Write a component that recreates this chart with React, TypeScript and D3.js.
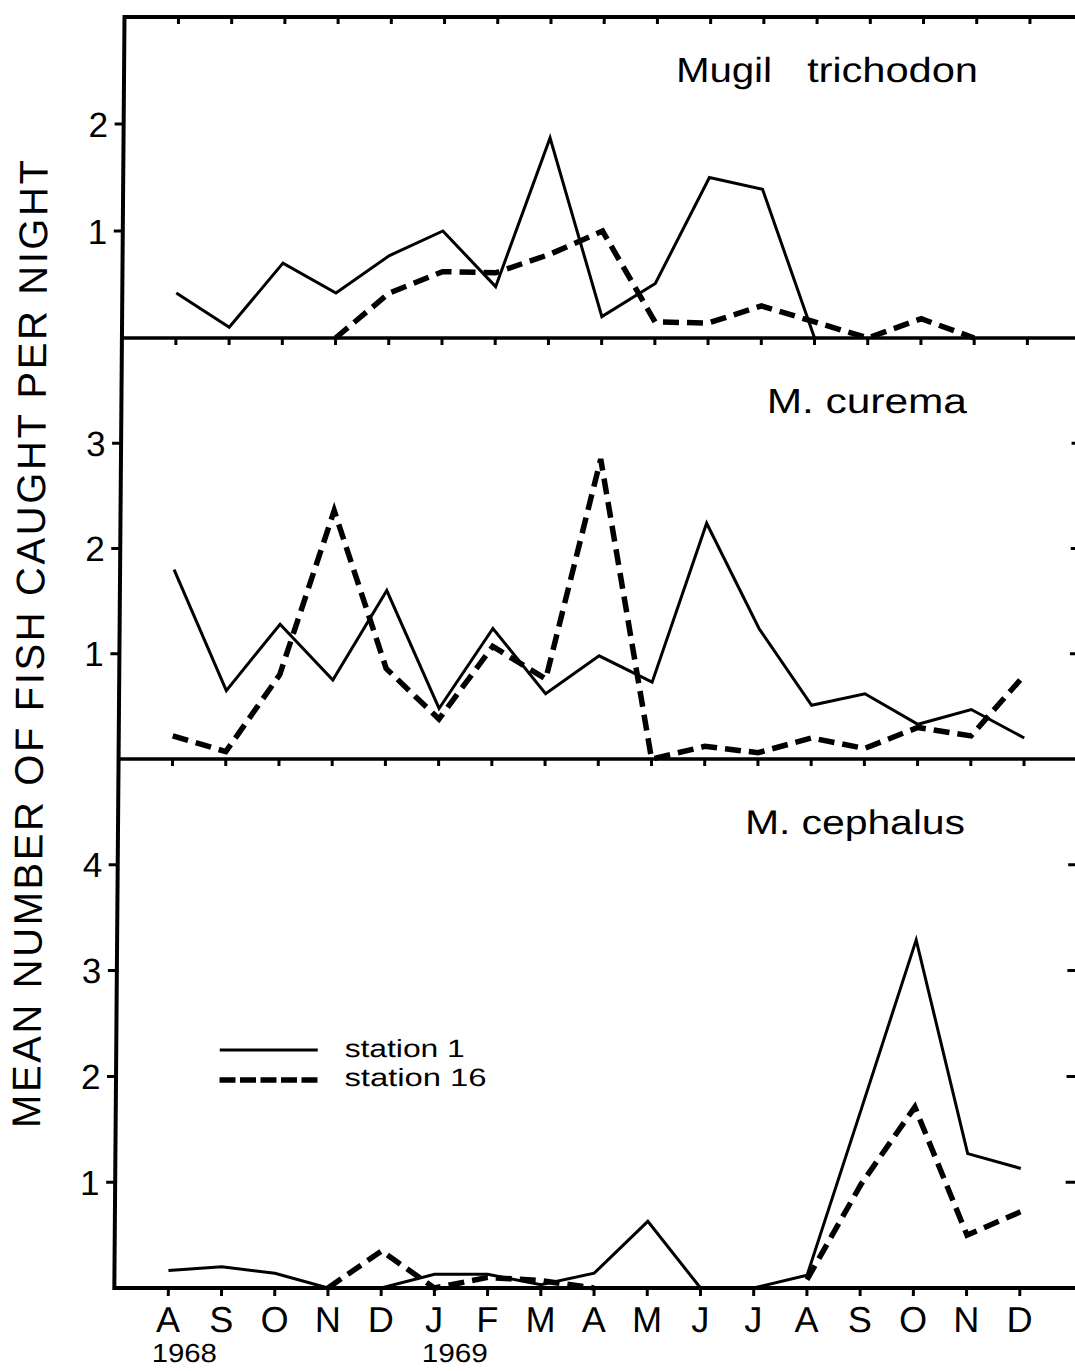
import React from 'react';
import * as d3 from 'd3';

// ---- data ----
const months = ['A', 'S', 'O', 'N', 'D', 'J', 'F', 'M', 'A', 'M', 'J', 'J', 'A', 'S', 'O', 'N', 'D'];
const years = [
  { label: '1968', index: 0, dx: -16, len: 65 },
  { label: '1969', index: 5, dx: -12, len: 66 },
];
const species = ['Mugil trichodon', 'M. curema', 'M. cephalus'];
const yMaxes = [3, 4, 5];
const yTicks = [[1, 2], [1, 2, 3], [1, 2, 3, 4]];

const trichodonSt1 = [0.42, 0.10, 0.70, 0.42, 0.77, 1.0, 0.48, 1.87, 0.2, 0.51, 1.5, 1.39, 0, null, null, null, null];
const trichodonSt16 = [null, null, null, 0, 0.42, 0.62, 0.61, 0.78, 1.0, 0.15, 0.14, 0.3, 0.15, 0, 0.18, 0, null];
const curemaSt1 = [1.80, 0.65, 1.28, 0.75, 1.60, 0.48, 1.24, 0.62, 0.98, 0.73, 2.24, 1.24, 0.51, 0.62, 0.33, 0.47, 0.20];
const curemaSt16 = [0.22, 0.07, 0.80, 2.36, 0.86, 0.38, 1.07, 0.76, 2.85, 0, 0.12, 0.06, 0.2, 0.1, 0.3, 0.22, 0.8];
const cephalusSt1 = [0.165, 0.2, 0.14, 0, 0, 0.13, 0.13, 0.03, 0.14, 0.63, 0, 0, 0.12, 1.7, 3.29, 1.27, 1.13];
const cephalusSt16 = [null, null, null, 0, 0.35, 0, 0.1, 0.07, 0, null, null, null, 0.08, 0.98, 1.71, 0.5, 0.72];

const station1 = [trichodonSt1, curemaSt1, cephalusSt1];
const station16 = [trichodonSt16, curemaSt16, cephalusSt16];
const legendLabels = ['station 1', 'station 16'];

// ---- layout ----
const W = 1075;
const H = 1371;
const LEFT = 124.5;
const RIGHT = 1092;
const panelTops = [17, 338, 759];
const panelBottoms = [338, 759, 1288];
const SKEW = -Math.atan(0.008) * 180 / Math.PI;

const numFont = '"Liberation Sans", Arial, sans-serif';
const titleFont = '"Liberation Sans", Arial, sans-serif';

export default function App() {
  const x = d3.scaleLinear().domain([0, 16]).range([178.5, 1030]);

  const panels = species.map((name, i) => {
    const y = d3.scaleLinear().domain([0, yMaxes[i]]).range([panelBottoms[i], panelTops[i]]);
    const line = d3
      .line<number | null>()
      .defined((d) => d != null)
      .x((_, j) => x(j))
      .y((d) => y(d as number));
    return { name, y, line, i };
  });

  return (
    <div style={{ position: 'absolute', left: 0, top: 0, background: '#fff' }}>
      <svg width={W} height={H} viewBox={`0 0 ${W} ${H}`} style={{ display: 'block', background: '#fff' }}>
        <rect x={0} y={0} width={W} height={H} fill="#fff" />
        <g transform={`translate(0,17) skewX(${SKEW}) translate(0,-17)`}>
          {/* y axis title */}
          <text
            transform={`translate(48.9,644) rotate(-90)`}
            textAnchor="middle"
            fontFamily={numFont}
            fontSize={40}
            textLength={968}
            lengthAdjust="spacing"
            fill="#000"
          >
            MEAN NUMBER OF FISH CAUGHT PER NIGHT
          </text>

          {/* frame */}
          <line x1={LEFT} x2={LEFT} y1={panelTops[0] - 2} y2={panelBottoms[2] + 2} stroke="#000" strokeWidth={4} />
          <line x1={RIGHT} x2={RIGHT} y1={panelTops[0]} y2={panelBottoms[2]} stroke="#000" strokeWidth={4} />
          <line x1={LEFT} x2={RIGHT} y1={panelTops[0]} y2={panelTops[0]} stroke="#000" strokeWidth={4} />
          {panelBottoms.map((b, k) => (
            <line key={k} x1={LEFT} x2={RIGHT} y1={b} y2={b} stroke="#000" strokeWidth={k === 2 ? 4 : 3.5} />
          ))}

          {panels.map((p) => (
            <g key={p.name}>
              {/* top ticks (inward) */}
              {months.map((m, j) => (
                <line key={j} x1={x(j)} x2={x(j)} y1={panelTops[p.i]} y2={panelTops[p.i] + 7} stroke="#000" strokeWidth={3} />
              ))}
              {/* left ticks + labels */}
              {yTicks[p.i].map((t) => (
                <g key={t}>
                  <line x1={LEFT - 9} x2={LEFT} y1={p.y(t)} y2={p.y(t)} stroke="#000" strokeWidth={3} />
                  <text x={109} y={p.y(t)} dy="0.36em" textAnchor="end" fontFamily={numFont} fontSize={35} fill="#000">
                    {t}
                  </text>
                  {p.i > 0 && (
                    <line x1={RIGHT - 17} x2={RIGHT} y1={p.y(t)} y2={p.y(t)} stroke="#000" strokeWidth={3} />
                  )}
                </g>
              ))}
              {/* series */}
              <path d={p.line(station1[p.i]) || ''} fill="none" stroke="#000" strokeWidth={3} strokeLinejoin="miter" />
              <path
                d={p.line(station16[p.i]) || ''}
                fill="none"
                stroke="#000"
                strokeWidth={5.5}
                strokeDasharray="16 8"
              />
            </g>
          ))}

          {/* species titles */}
          <text x={676.5} y={82} fontFamily={titleFont} fontSize={35} textLength={96} lengthAdjust="spacingAndGlyphs" fill="#000">
            {species[0].split(' ')[0]}
          </text>
          <text x={807.5} y={82} fontFamily={titleFont} fontSize={35} textLength={171} lengthAdjust="spacingAndGlyphs" fill="#000">
            {species[0].split(' ')[1]}
          </text>
          <text x={770} y={413} fontFamily={titleFont} fontSize={35} textLength={200} lengthAdjust="spacingAndGlyphs" fill="#000">
            {species[1]}
          </text>
          <text x={751.5} y={834} fontFamily={titleFont} fontSize={34} textLength={220} lengthAdjust="spacingAndGlyphs" fill="#000">
            {species[2]}
          </text>

          {/* bottom axis ticks and labels */}
          {months.map((m, j) => (
            <g key={j}>
              <line x1={x(j)} x2={x(j)} y1={panelBottoms[2]} y2={panelBottoms[2] + 8} stroke="#000" strokeWidth={3} />
              <text x={x(j)} y={1332} textAnchor="middle" fontFamily={numFont} fontSize={36} fill="#000">
                {m}
              </text>
            </g>
          ))}
          {years.map((yr) => (
            <text
              key={yr.label}
              x={x(yr.index) + yr.dx}
              y={1362}
              fontFamily={numFont}
              fontSize={26}
              textLength={yr.len}
              lengthAdjust="spacingAndGlyphs"
              fill="#000"
            >
              {yr.label}
            </text>
          ))}

          {/* legend */}
          <line x1={228} x2={326} y1={1050} y2={1050} stroke="#000" strokeWidth={3} />
          <line x1={228} x2={326} y1={1080} y2={1080} stroke="#000" strokeWidth={5.5} strokeDasharray="16 4.5" />
          <text x={353} y={1057} fontFamily={titleFont} fontSize={25} textLength={120} lengthAdjust="spacingAndGlyphs" fill="#000">
            {legendLabels[0]}
          </text>
          <text x={353} y={1086} fontFamily={titleFont} fontSize={25} textLength={142} lengthAdjust="spacingAndGlyphs" fill="#000">
            {legendLabels[1]}
          </text>
        </g>
      </svg>
    </div>
  );
}
